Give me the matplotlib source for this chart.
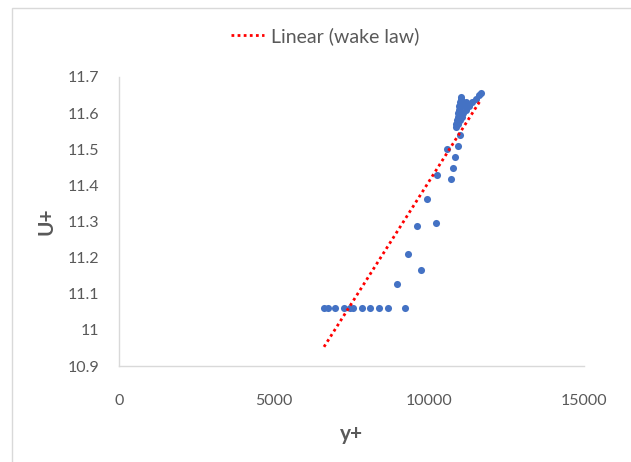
import numpy as np
import matplotlib
matplotlib.use('Agg')
import matplotlib.pyplot as plt
from matplotlib.patches import Rectangle
from matplotlib.ticker import FuncFormatter

plt.rcParams['font.family'] = ['Lato', 'DejaVu Sans']

# data
y_plus = [6613, 6742, 6958, 7268, 7452, 7548, 7839, 8097, 8387, 8677, 9226,
          8978, 9333, 9752, 9623, 10236, 9946, 10248, 10720, 10774, 10849,
          10570, 10946, 11011, 10860,
          10880, 10900, 10920, 10940, 10960, 10980, 11000, 11020, 11035,
          10950, 11000, 11050, 11100, 11200, 11300, 11400, 11500, 11600, 11680,
          11060, 11120, 11180]
u_plus = [11.06, 11.06, 11.06, 11.06, 11.06, 11.06, 11.06, 11.06, 11.06, 11.06, 11.06,
          11.128, 11.21, 11.166, 11.288, 11.297, 11.362, 11.43, 11.417, 11.447, 11.478,
          11.50, 11.509, 11.539, 11.562,
          11.57, 11.58, 11.59, 11.60, 11.61, 11.62, 11.63, 11.64, 11.645,
          11.57, 11.58, 11.59, 11.60, 11.61, 11.62, 11.63, 11.64, 11.65, 11.655,
          11.62, 11.625, 11.63]

# wake law trendline ends
trend_y_plus = [6613, 11680]
trend_u_plus = [10.953, 11.638]

x_ticks = [0, 5000, 10000, 15000]
y_ticks = [10.9, 11.0, 11.1, 11.2, 11.3, 11.4, 11.5, 11.6, 11.7]

fig = plt.figure(figsize=(6.31, 4.62), dpi=100)
ax = fig.add_axes([119/631, 1-366/462, (584-119)/631, (366-77)/462])

ax.scatter(y_plus, u_plus, s=26, color='#4472C4', zorder=3, linewidths=0)
ax.plot(trend_y_plus, trend_u_plus, color='red', lw=2, linestyle=(0, (1, 1.2)),
        label='Linear (wake law)', zorder=4)

ax.set_xlim(0, 15000)
ax.set_ylim(10.9, 11.7)
ax.set_xticks(x_ticks)
ax.set_yticks(y_ticks)
ax.yaxis.set_major_formatter(FuncFormatter(lambda v, p: '%g' % round(v, 1)))
ax.tick_params(length=0, labelsize=11.5, colors='#595959')
ax.tick_params(axis='y', pad=14)
ax.tick_params(axis='x', pad=20)

for s in ['top', 'right']:
    ax.spines[s].set_visible(False)
for s in ['left', 'bottom']:
    ax.spines[s].set_color('#d9d9d9')
    ax.spines[s].set_linewidth(1)

ax.set_xlabel('y+', fontsize=15, fontweight='bold', color='#595959', labelpad=12)
ax.set_ylabel('U+', fontsize=15, fontweight='bold', color='#595959', labelpad=8)

fig.legend(loc='center', bbox_to_anchor=(0.515, 0.922), frameon=False,
           fontsize=14, labelcolor='#595959', handlelength=1.7, handletextpad=0.35)

fig.patches.append(Rectangle((12/631, -0.1), 1.2, (462-8)/462 + 0.1,
                             transform=fig.transFigure, fill=False,
                             edgecolor='#d9d9d9', lw=1))

fig.savefig('out.png', dpi=100)
